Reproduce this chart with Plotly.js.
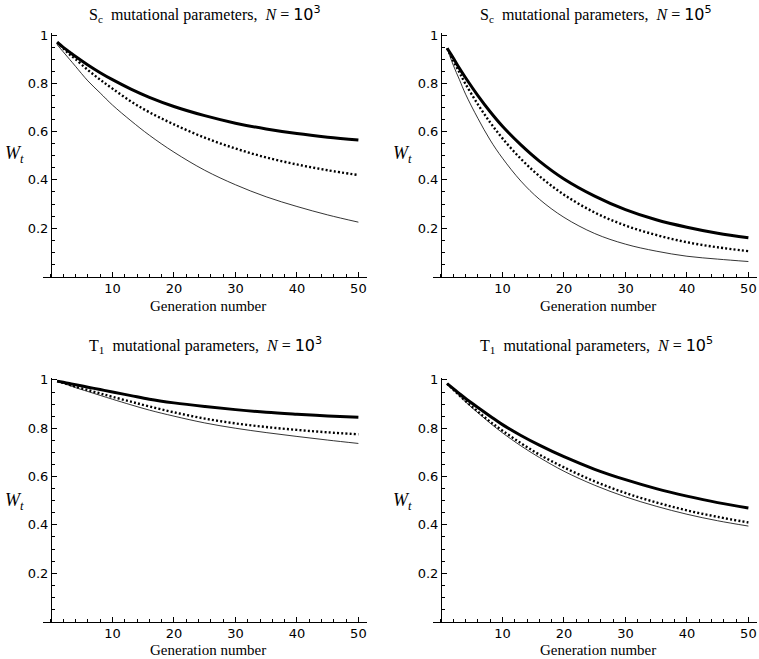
<!DOCTYPE html>
<html>
<head>
<meta charset="utf-8">
<script src="https://cdn.plot.ly/plotly-3.0.1.min.js"></script>
<style>html,body{margin:0;padding:0;background:#fff;}#chart{width:759px;height:659px;}</style>
</head>
<body>
<div id="chart"></div>
<script>
// Generation numbers at which the curves were read
const generations = [1, 2, 3, 4, 6, 8, 10, 13, 16, 20, 25, 30, 35, 40, 45, 50];

// Panel titles
const panelTitles = [
  'S<sub>c</sub>  mutational parameters,  <i>N</i> = <span style="font-family:DejaVu Sans">10</span><sup><span style="font-family:DejaVu Sans">3</span></sup>',
  'S<sub>c</sub>  mutational parameters,  <i>N</i> = <span style="font-family:DejaVu Sans">10</span><sup><span style="font-family:DejaVu Sans">5</span></sup>',
  'T<sub>1</sub>  mutational parameters,  <i>N</i> = <span style="font-family:DejaVu Sans">10</span><sup><span style="font-family:DejaVu Sans">3</span></sup>',
  'T<sub>1</sub>  mutational parameters,  <i>N</i> = <span style="font-family:DejaVu Sans">10</span><sup><span style="font-family:DejaVu Sans">5</span></sup>'
];

// S_c, N = 10^3
const scN3Thick  = [0.97, 0.949, 0.93, 0.911, 0.876, 0.844, 0.815, 0.776, 0.742, 0.704, 0.666, 0.635, 0.611, 0.592, 0.577, 0.565];
const scN3Dotted = [0.97, 0.945, 0.92, 0.90, 0.855, 0.815, 0.778, 0.725, 0.68, 0.63, 0.575, 0.53, 0.493, 0.464, 0.44, 0.42];
const scN3Thin   = [0.96, 0.93, 0.90, 0.87, 0.81, 0.76, 0.71, 0.645, 0.585, 0.515, 0.44, 0.38, 0.33, 0.29, 0.255, 0.225];

// S_c, N = 10^5
const scN5Thick  = [0.945, 0.905, 0.862, 0.823, 0.749, 0.682, 0.622, 0.545, 0.478, 0.404, 0.333, 0.277, 0.235, 0.204, 0.179, 0.16];
const scN5Dotted = [0.945, 0.893, 0.845, 0.797, 0.713, 0.638, 0.572, 0.487, 0.416, 0.339, 0.265, 0.211, 0.172, 0.142, 0.121, 0.105];
const scN5Thin   = [0.945, 0.875, 0.815, 0.755, 0.655, 0.565, 0.49, 0.395, 0.32, 0.245, 0.178, 0.134, 0.105, 0.084, 0.072, 0.062];

// T_1, N = 10^3
const t1N3Thick  = [0.995, 0.99, 0.985, 0.98, 0.97, 0.96, 0.95, 0.935, 0.92, 0.905, 0.89, 0.877, 0.866, 0.858, 0.851, 0.845];
const t1N3Dotted = [0.995, 0.988, 0.98, 0.972, 0.958, 0.944, 0.93, 0.91, 0.89, 0.866, 0.84, 0.82, 0.805, 0.793, 0.783, 0.775];
const t1N3Thin   = [0.995, 0.986, 0.977, 0.968, 0.952, 0.936, 0.92, 0.897, 0.875, 0.85, 0.822, 0.80, 0.782, 0.766, 0.751, 0.737];

// T_1, N = 10^5
const t1N5Thick  = [0.985, 0.964, 0.943, 0.923, 0.886, 0.85, 0.815, 0.77, 0.73, 0.682, 0.63, 0.587, 0.55, 0.519, 0.492, 0.47];
const t1N5Dotted = [0.985, 0.96, 0.936, 0.912, 0.869, 0.827, 0.79, 0.738, 0.691, 0.638, 0.58, 0.532, 0.493, 0.46, 0.433, 0.41];
const t1N5Thin   = [0.985, 0.959, 0.934, 0.909, 0.864, 0.821, 0.781, 0.727, 0.679, 0.622, 0.564, 0.516, 0.477, 0.444, 0.417, 0.395];

const xTickVals = [10, 20, 30, 40, 50];
const xTickText = ['10', '20', '30', '40', '50'];
const yTickVals = [0.2, 0.4, 0.6, 0.8, 1];
const yTickText = ['0.2', '0.4', '0.6', '0.8', '1'];

const panels = [
  [scN3Thick, scN3Dotted, scN3Thin],
  [scN5Thick, scN5Dotted, scN5Thin],
  [t1N3Thick, t1N3Dotted, t1N3Thin],
  [t1N5Thick, t1N5Dotted, t1N5Thin]
];

const W = 759, H = 659;
const xRange = [-1.3, 51.4];
const yRange = [0, 1.01];
const xDomPx = [[43, 367], [433, 757]];
const yDomPx = [[276.5, 32.6], [621.5, 377.5]]; // [bottom, top] pixel rows

const traces = [];
const layout = {
  width: W, height: H,
  margin: {l: 0, r: 0, t: 0, b: 0},
  paper_bgcolor: '#fff', plot_bgcolor: '#fff',
  showlegend: false,
  annotations: [],
  font: {family: 'DejaVu Sans', color: '#000'}
};

const styles = [
  {width: 3, dash: 'solid'},
  {width: 2.4, dash: '2px,2.2px'},
  {width: 0.8, dash: 'solid'}
];

panels.forEach((series, i) => {
  const col = i % 2, row = Math.floor(i / 2);
  const n = i + 1;
  const xd = [xDomPx[col][0] / W, xDomPx[col][1] / W];
  const yd = [1 - yDomPx[row][0] / H, 1 - yDomPx[row][1] / H];
  const xa = 'xaxis' + (n === 1 ? '' : n);
  const ya = 'yaxis' + (n === 1 ? '' : n);
  const xref = 'x' + (n === 1 ? '' : n);
  const yref = 'y' + (n === 1 ? '' : n);
  series.forEach((vals, k) => {
    traces.push({
      x: generations, y: vals, xaxis: xref, yaxis: yref,
      type: 'scatter', mode: 'lines',
      line: {color: '#000', width: styles[k].width, dash: styles[k].dash, shape: 'spline', smoothing: 1},
      hoverinfo: 'skip'
    });
  });
  layout[xa] = {
    domain: xd, range: xRange, anchor: yref,
    showline: true, linecolor: '#000', linewidth: 1,
    showgrid: false, zeroline: false,
    tickmode: 'array', tickvals: xTickVals, ticktext: xTickText,
    ticks: 'inside', ticklen: 5, tickwidth: 1, tickcolor: '#000',
    minor: {tickmode: 'linear', tick0: 0, dtick: 2, ticks: 'inside', ticklen: 3, tickwidth: 1, tickcolor: '#000', showgrid: false},
    tickfont: {family: 'DejaVu Sans', size: 13, color: '#000'},
    fixedrange: true
  };
  const pos = xd[0] + (0 - xRange[0]) / (xRange[1] - xRange[0]) * (xd[1] - xd[0]);
  layout[ya] = {
    domain: yd, range: yRange, anchor: 'free', position: pos,
    showline: true, linecolor: '#000', linewidth: 1,
    showgrid: false, zeroline: false,
    tickmode: 'array', tickvals: yTickVals, ticktext: yTickText,
    ticks: 'inside', ticklen: 5, tickwidth: 1, tickcolor: '#000',
    minor: {tickmode: 'linear', tick0: 0, dtick: 0.05, ticks: 'inside', ticklen: 3, tickwidth: 1, tickcolor: '#000', showgrid: false},
    tickfont: {family: 'DejaVu Sans', size: 13, color: '#000'},
    fixedrange: true
  };
  // panel title
  const titleY = row === 0 ? 14 : 345;
  layout.annotations.push({
    xref: 'paper', yref: 'paper', x: (col === 0 ? 205 : 596) / W, y: 1 - titleY / H,
    xanchor: 'center', yanchor: 'middle', showarrow: false,
    text: panelTitles[i],
    font: {family: 'Liberation Serif', size: 16, color: '#000'}
  });
  // x axis title
  layout.annotations.push({
    xref: 'paper', yref: 'paper', x: (col === 0 ? 208 : 598) / W, y: 1 - (row === 0 ? 306 : 650) / H,
    xanchor: 'center', yanchor: 'middle', showarrow: false, borderpad: 0,
    text: 'Generation number',
    font: {family: 'Liberation Serif', size: 15, color: '#000'}
  });
  // y axis label W_t
  layout.annotations.push({
    xref: 'paper', yref: 'paper', x: (col === 0 ? 14 : 402) / W, y: 1 - (row === 0 ? 155 : 501) / H,
    xanchor: 'center', yanchor: 'middle', showarrow: false,
    text: '<i>W<sub>t</sub></i>',
    font: {family: 'Liberation Serif', size: 18, color: '#000'}
  });
});

Plotly.newPlot('chart', traces, layout, {staticPlot: true, displayModeBar: false});
</script>
</body>
</html>
